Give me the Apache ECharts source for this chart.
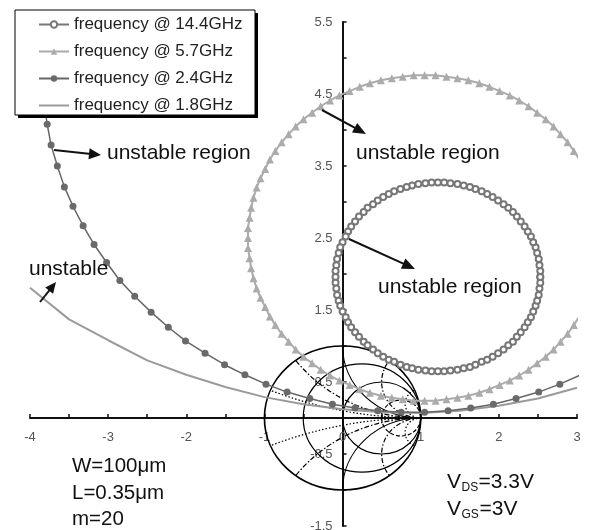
<!DOCTYPE html>
<html><head><meta charset="utf-8">
<script src="https://cdn.jsdelivr.net/npm/echarts@6/dist/echarts.min.js"></script>
<style>html,body{margin:0;padding:0;background:#fff}#c{width:589px;height:530px}</style>
</head><body><div id="c"></div>
<script>
// ---------------- data ----------------
const seriesNames = ['frequency @ 14.4GHz', 'frequency @ 5.7GHz', 'frequency @ 2.4GHz', 'frequency @ 1.8GHz'];
const xTickLabels = ['-4', '-3', '-2', '-1', '0', '1', '2', '3'];
const yTickLabels = ['-1.5', '-0.5', '0.5', '1.5', '2.5', '3.5', '4.5', '5.5'];

// 14.4 GHz stability circle
const x144 = [2.53,2.53,2.52,2.51,2.49,2.47,2.44,2.41,2.37,2.33,2.28,2.23,2.18,2.12,2.06,1.99,1.92,1.85,1.78,1.70,1.63,1.55,1.47,1.38,1.30,
  1.22,1.14,1.06,0.97,0.89,0.82,0.74,0.66,0.59,0.52,0.45,0.39,0.32,0.27,0.21,0.16,0.11,0.07,0.04,0.00,-0.03,-0.05,-0.07,-0.08,-0.09,
  -0.09,-0.09,-0.08,-0.07,-0.05,-0.03,0.00,0.04,0.07,0.11,0.16,0.21,0.27,0.32,0.39,0.45,0.52,0.59,0.66,0.74,0.82,0.89,0.97,1.06,1.14,
  1.22,1.30,1.38,1.47,1.55,1.63,1.70,1.78,1.85,1.92,1.99,2.06,2.12,2.18,2.23,2.28,2.33,2.37,2.41,2.44,2.47,2.49,2.51,2.52,2.53,2.53];
const y144 = [1.96,2.04,2.12,2.21,2.29,2.37,2.44,2.52,2.59,2.66,2.73,2.80,2.86,2.92,2.97,3.02,3.07,3.11,3.15,3.18,3.21,3.23,3.25,3.26,3.27,
  3.27,3.27,3.26,3.25,3.23,3.21,3.18,3.15,3.11,3.07,3.02,2.97,2.92,2.86,2.80,2.73,2.66,2.59,2.52,2.44,2.37,2.29,2.21,2.12,2.04,
  1.96,1.88,1.80,1.71,1.63,1.56,1.48,1.40,1.33,1.26,1.19,1.13,1.06,1.01,0.95,0.90,0.85,0.81,0.78,0.74,0.71,0.69,0.67,0.66,0.65,
  0.65,0.65,0.66,0.67,0.69,0.71,0.74,0.78,0.81,0.85,0.90,0.95,1.01,1.06,1.13,1.19,1.26,1.33,1.40,1.48,1.56,1.63,1.71,1.80,1.88,1.96];

// 5.7 GHz stability circle
const x57 = [3.31,3.31,3.29,3.27,3.24,3.20,3.15,3.09,3.03,2.96,2.88,2.79,2.70,2.60,2.49,2.38,2.26,2.14,2.01,1.88,1.75,1.61,1.47,1.33,1.19,
  1.05,0.91,0.77,0.63,0.49,0.35,0.22,0.09,-0.04,-0.16,-0.28,-0.39,-0.50,-0.60,-0.69,-0.78,-0.86,-0.93,-0.99,-1.05,-1.10,-1.14,-1.17,-1.19,-1.21,
  -1.21,-1.21,-1.19,-1.17,-1.14,-1.10,-1.05,-0.99,-0.93,-0.86,-0.78,-0.69,-0.60,-0.50,-0.39,-0.28,-0.16,-0.04,0.09,0.22,0.35,0.49,0.63,0.77,0.91,
  1.05,1.19,1.33,1.47,1.61,1.75,1.88,2.01,2.14,2.26,2.38,2.49,2.60,2.70,2.79,2.88,2.96,3.03,3.09,3.15,3.20,3.24,3.27,3.29,3.31,3.31];
const y57 = [2.50,2.64,2.78,2.92,3.06,3.20,3.33,3.46,3.59,3.71,3.83,3.94,4.05,4.15,4.24,4.33,4.41,4.48,4.54,4.60,4.65,4.69,4.72,4.74,4.76,
  4.76,4.76,4.74,4.72,4.69,4.65,4.60,4.54,4.48,4.41,4.33,4.24,4.15,4.05,3.94,3.83,3.71,3.59,3.46,3.33,3.20,3.06,2.92,2.78,2.64,
  2.50,2.36,2.22,2.08,1.94,1.80,1.67,1.54,1.41,1.29,1.17,1.06,0.95,0.85,0.76,0.67,0.59,0.52,0.46,0.40,0.35,0.31,0.28,0.26,0.24,
  0.24,0.24,0.26,0.28,0.31,0.35,0.40,0.46,0.52,0.59,0.67,0.76,0.85,0.95,1.06,1.17,1.29,1.41,1.54,1.67,1.80,1.94,2.08,2.22,2.36,2.50];

// 2.4 GHz stability circle (visible part)
const x24 = [-3.78,-3.82,-3.84,-3.84,-3.82,-3.78,-3.73,-3.65,-3.56,-3.45,-3.32,-3.18,-3.02,-2.85,-2.66,-2.45,-2.23,-2.01,-1.76,-1.51,
  -1.25,-0.98,-0.71,-0.42,-0.13,0.16,0.45,0.75,1.05,1.35,1.64,1.93,2.22,2.51,2.78,3.05];
const y24 = [5.56,5.27,4.97,4.67,4.37,4.08,3.79,3.50,3.21,2.94,2.67,2.41,2.16,1.91,1.69,1.47,1.26,1.07,0.90,0.74,
  0.60,0.47,0.36,0.27,0.19,0.14,0.10,0.08,0.08,0.10,0.14,0.19,0.27,0.36,0.47,0.60];

// 1.8 GHz stability circle (visible part)
const x18 = [-4,-3.5,-3,-2.5,-2,-1.5,-1,-0.5,0,0.5,1,1.5,2,2.5,3];
const y18 = [1.81,1.37,1.08,0.80,0.60,0.43,0.29,0.19,0.12,0.08,0.07,0.10,0.17,0.27,0.42];

// Smith chart background grid (normalized resistance / reactance values)
const smithResistance = [0.33, 1, 3];
const smithReactance = [0.2, 0.5, 1, 2, 5];

// ---------------- rendering ----------------
const FONT = '"Liberation Sans", Arial, Helvetica, sans-serif';
const pairs = (xs, ys) => xs.map((x, i) => [x, ys[i]]);

const resDash = [null, null, [4, 2]];
const reaDash = [[1.5, 2], [5, 2, 1.5, 2], null, [5, 2, 1.5, 2], [1.5, 2]];

function smithRender(params, api) {
  const c = api.coord([0, 0]);
  const u = api.size([1, 1]);
  const ux = u[0], uy = u[1];
  const P = (x, y) => [c[0] + x * ux, c[1] - y * uy];
  const ell = (cx, cy, r) => {
    const p = P(cx, cy), rx = r * ux, ry = r * uy;
    return 'M' + (p[0] - rx) + ' ' + p[1] + ' A' + rx + ' ' + ry + ' 0 1 0 ' + (p[0] + rx) + ' ' + p[1] +
      ' A' + rx + ' ' + ry + ' 0 1 0 ' + (p[0] - rx) + ' ' + p[1] + ' Z';
  };
  const children = [];
  children.push({ type: 'path', shape: { pathData: ell(0, 0, 1) }, style: { fill: 'none', stroke: '#000', lineWidth: 1.7 } });
  smithResistance.forEach((r, i) => {
    children.push({ type: 'path', shape: { pathData: ell(r / (1 + r), 0, 1 / (1 + r)) },
      style: { fill: 'none', stroke: '#000', lineWidth: 1.2, lineDash: resDash[i] } });
  });
  smithReactance.forEach((x, i) => {
    [1, -1].forEach(s => {
      const xv = s * x;
      const rad = 1 / Math.abs(xv);
      const qx = (xv * xv - 1) / (xv * xv + 1), qy = 2 * xv / (xv * xv + 1);
      const p1 = P(1, 0), p2 = P(qx, qy), pc = P(1, 1 / xv);
      const a = [p1[0] - pc[0], p1[1] - pc[1]], b = [p2[0] - pc[0], p2[1] - pc[1]];
      const sweep = (a[0] * b[1] - a[1] * b[0]) > 0 ? 1 : 0;
      const d = 'M' + p1[0] + ' ' + p1[1] + ' A' + (rad * ux) + ' ' + (rad * uy) + ' 0 0 ' + sweep + ' ' + p2[0] + ' ' + p2[1];
      children.push({ type: 'path', shape: { pathData: d },
        style: { fill: 'none', stroke: '#000', lineWidth: 1.2, lineDash: reaDash[i] } });
    });
  });
  return { type: 'group', children };
}

function arrow(t, h, L, W) {
  const dx = h[0] - t[0], dy = h[1] - t[1], len = Math.hypot(dx, dy);
  const ux = dx / len, uy = dy / len;
  const bx = h[0] - L * ux, by = h[1] - L * uy;
  return [
    { type: 'line', z: 12, shape: { x1: t[0], y1: t[1], x2: bx + ux * 2, y2: by + uy * 2 }, style: { stroke: '#111', lineWidth: 2 } },
    { type: 'polygon', z: 12, shape: { points: [[h[0], h[1]], [bx - W * uy, by + W * ux], [bx + W * uy, by - W * ux]] }, style: { fill: '#111' } }
  ];
}
function txt(s, x, y, size) {
  return { type: 'text', z: 12, x: x, y: y, style: { text: s, fontSize: size, fontFamily: FONT, fill: '#111', align: 'left', verticalAlign: 'middle' } };
}

const graphics = [
  { type: 'rect', z: 10, shape: { x: 18, y: 13, width: 240, height: 105 }, style: { fill: '#000' } },
  { type: 'rect', z: 10, shape: { x: 15, y: 10, width: 240, height: 105 }, style: { fill: '#fff', stroke: '#000', lineWidth: 1 } },
  txt('unstable region', 356, 153, 21),
  txt('unstable region', 378, 287, 21),
  txt('unstable region', 107, 153, 21),
  txt('unstable', 29, 269, 21),
  txt('W=100\u03bcm', 72, 466, 20.5),
  txt('L=0.35\u03bcm', 72, 493, 20.5),
  txt('m=20', 72, 519, 20.5),
  txt('V', 447, 482, 21), txt('DS', 461.5, 488, 12), txt('=3.3V', 478.5, 482, 21),
  txt('V', 447, 509, 21), txt('GS', 461.5, 515, 12), txt('=3V', 479.5, 509, 21)
].concat(
  arrow([322, 110], [366, 134], 13, 5.5),
  arrow([349, 239], [415, 269], 13, 5.5),
  arrow([54, 150], [101, 155], 12, 5.5),
  arrow([40, 302], [56, 282], 11, 5)
);

const GRID = { left: 30, right: 12, top: 22, bottom: 4 };
const chart = echarts.init(document.getElementById('c'), null, { renderer: 'canvas' });
const axisCommon = {
  type: 'value', interval: 0.5,
  axisLine: { show: true, onZero: false, lineStyle: { color: '#111', width: 2 } },
  axisTick: { show: true, inside: true, length: 4, lineStyle: { color: '#111', width: 1.5 } },
  splitLine: { show: false }
};
chart.setOption({
  animation: false,
  backgroundColor: '#fff',
  grid: Object.assign({ outerBoundsMode: 'none', containLabel: false }, GRID),
  xAxis: Object.assign({}, axisCommon, {
    min: -4, max: 3, position: 'bottom',
    axisLabel: { show: true, margin: 13, color: '#555', fontSize: 13, fontFamily: FONT, showMinLabel: true, showMaxLabel: true,
      formatter: v => { const s = String(v); return xTickLabels.indexOf(s) >= 0 ? s : ''; } }
  }),
  yAxis: Object.assign({}, axisCommon, {
    min: -1.5, max: 5.5, position: 'left',
    axisLabel: { show: true, margin: 10, color: '#555', fontSize: 13, fontFamily: FONT, showMinLabel: true, showMaxLabel: true,
      formatter: v => { const s = String(v); return yTickLabels.indexOf(s) >= 0 ? s : ''; } }
  }),
  legend: {
    data: [seriesNames[0], seriesNames[1], seriesNames[2], { name: seriesNames[3], itemStyle: { opacity: 0 } }],
    orient: 'vertical', left: 38, top: 16, padding: 0, itemGap: 10, itemWidth: 30, itemHeight: 8,
    selectedMode: false, z: 11,
    textStyle: { fontSize: 17, fontFamily: FONT, color: '#222', lineHeight: 17 }
  },
  graphic: graphics,
  series: [
    { type: 'custom', name: 'smith', silent: true, z: 2, clip: false, data: [[0, 0]], encode: { x: 0, y: 1 }, renderItem: smithRender },
    { name: seriesNames[3], type: 'line', z: 3, data: pairs(x18, y18), symbol: 'none',
      lineStyle: { color: '#9a9a9a', width: 2 }, itemStyle: { color: '#9a9a9a' }, silent: true },
    { name: seriesNames[2], type: 'line', z: 4, data: pairs(x24, y24), symbol: 'circle', symbolSize: 7, showAllSymbol: true,
      lineStyle: { color: '#666', width: 1.5 }, itemStyle: { color: '#6a6a6a' }, silent: true },
    { name: seriesNames[1], type: 'line', z: 5, data: pairs(x57, y57), symbol: 'triangle', symbolSize: 8, showAllSymbol: true,
      lineStyle: { color: '#ababab', width: 2 }, itemStyle: { color: '#ababab' }, silent: true },
    { name: seriesNames[0], type: 'line', z: 6, data: pairs(x144, y144), symbol: 'emptyCircle', symbolSize: 6, showAllSymbol: true,
      lineStyle: { color: '#777', width: 1 }, itemStyle: { color: '#777', borderWidth: 1.3 }, silent: true }
  ]
});
// move both axes (line, ticks and labels) so they cross at the data origin
const origin = chart.convertToPixel({ gridIndex: 0 }, [0, 0]);
const gridBottom = chart.getHeight() - GRID.bottom;
chart.setOption({
  xAxis: { offset: origin[1] - gridBottom },
  yAxis: { offset: GRID.left - origin[0] }
});
</script></body></html>
